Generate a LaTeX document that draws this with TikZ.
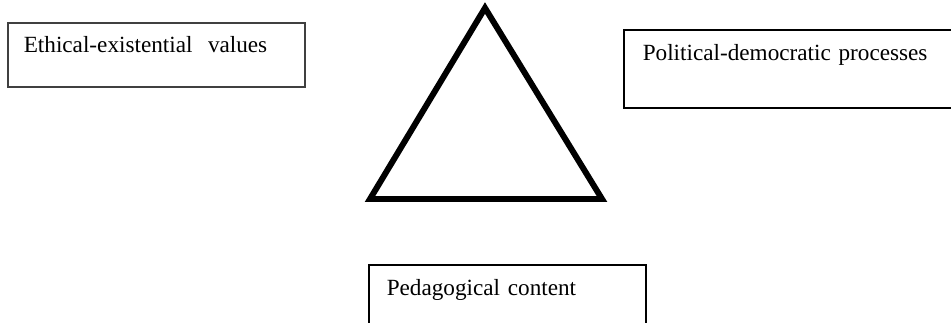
\documentclass[tikz,border=0pt]{standalone}
\usepackage{fontspec}
\setmainfont{Liberation Serif}
\usepackage{tikz}
\usetikzlibrary{positioning,calc}

\tikzset{
  valuebox/.style={draw, line width=0.9pt, anchor=north west, inner ysep=0pt,
    align=left, font=\fontsize{13.2}{15}\selectfont}
}

\begin{document}
\begin{tikzpicture}[x=0.02cm, y=-0.02cm]
		\useasboundingbox (0,0) rectangle (951,323);

		% the three boxes
		\node[valuebox, draw=black!75, inner xsep=16*0.02cm, text width=265*0.02cm, text height=30*0.02cm, text depth=34*0.02cm] (ethical) at (7,22) {Ethical-existential\ \ values};
		\node[valuebox, inner xsep=19*0.02cm, text width=330*0.02cm, text height=31*0.02cm, text depth=47*0.02cm] (political) at (623,29) {Political-democratic processes};
		\node[valuebox, inner xsep=18*0.02cm, text width=241*0.02cm, text height=31*0.02cm, text depth=50*0.02cm] (pedagogical) at (368,264) {Pedagogical content};

		% triangle
		\draw[line width=3.4pt, line join=miter] (485,8) -- (602,199) -- (370,199) -- cycle;
	\end{tikzpicture}
\end{document}
